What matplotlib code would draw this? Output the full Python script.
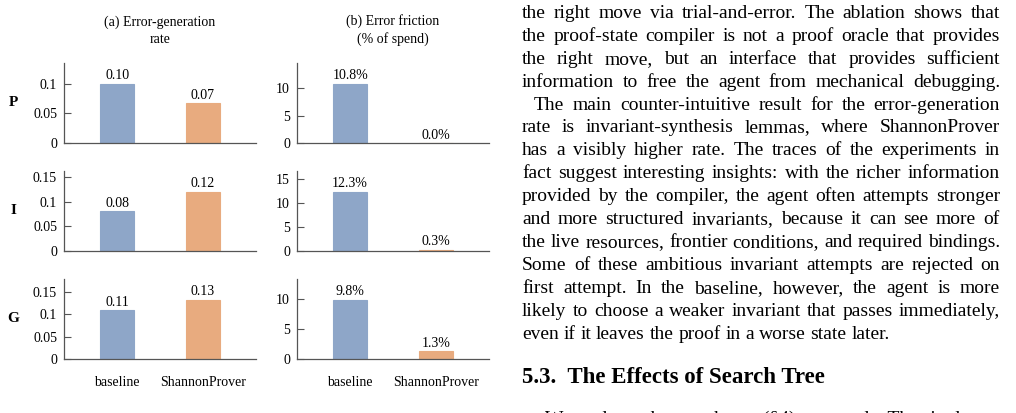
import numpy as np
import matplotlib.pyplot as plt
from matplotlib.ticker import MultipleLocator, FuncFormatter

plt.rcParams['font.family'] = 'Liberation Serif'

W, H = 1016, 413

# data
rows = ['P', 'I', 'G']
methods = ['baseline', 'ShannonProver']
rate_baseline = [0.10, 0.081, 0.11]
rate_shannon = [0.067, 0.12, 0.133]
fric_baseline = [10.8, 12.3, 9.8]
fric_shannon = [0.0, 0.3, 1.3]
titles = ['(a) Error-generation\nrate', '(b) Error friction\n(% of spend)']

body = [
    "the right move via trial-and-error. The ablation shows that",
    "the proof-state compiler is not a proof oracle that provides",
    "the right move, but an interface that provides sufficient",
    "information to free the agent from mechanical debugging.",
    "The main counter-intuitive result for the error-generation",
    "rate is invariant-synthesis lemmas, where ShannonProver",
    "has a visibly higher rate. The traces of the experiments in",
    "fact suggest interesting insights: with the richer information",
    "provided by the compiler, the agent often attempts stronger",
    "and more structured invariants, because it can see more of",
    "the live resources, frontier conditions, and required bindings.",
    "Some of these ambitious invariant attempts are rejected on",
    "first attempt. In the baseline, however, the agent is more",
    "likely to choose a weaker invariant that passes immediately,",
    "even if it leaves the proof in a worse state later.",
]
heading = "5.3.  The Effects of Search Tree"
last_line = "We evaluate the search tree (\u00a74) separately. The single"

blue = '#8ea6c8'
orange = '#e8ab7f'
gray = '#555555'

fig = plt.figure(figsize=(W / 100, H / 100), dpi=100)


def px_axes(x, y, w, h):
    return fig.add_axes([x / W, 1 - (y + h) / H, w / W, h / H])


tops = [63, 171, 279]
lefts = [64, 297]

for r in range(3):
    for c in range(2):
        ax = px_axes(lefts[c], tops[r], 192, 80)
        if c == 0:
            vals = [rate_baseline[r], rate_shannon[r]]
            labs = [f'{v:.2f}' for v in vals]
            step = 0.05
        else:
            vals = [fric_baseline[r], fric_shannon[r]]
            labs = [f'{v:.1f}%' for v in vals]
            step = 5
        bars = ax.bar([0, 1], vals, width=0.4, color=[blue, orange],
                      edgecolor=[blue, orange], linewidth=0.8)
        ax.bar_label(bars, labels=labs, padding=1, fontsize=10)
        ax.set_xlim(-0.62, 1.62)
        ax.set_ylim(0, max(vals) * 1.35)
        ax.yaxis.set_major_locator(MultipleLocator(step))
        ax.yaxis.set_major_formatter(FuncFormatter(lambda v, p: f'{v:g}'))
        for s in ['top', 'right']:
            ax.spines[s].set_visible(False)
        for s in ['left', 'bottom']:
            ax.spines[s].set_color(gray)
            ax.spines[s].set_linewidth(0.9)
        ax.tick_params(axis='y', direction='in', length=5, color=gray,
                       labelsize=10, pad=5)
        ax.set_xticks([0, 1])
        if r == 2:
            ax.set_xticklabels(methods)
        else:
            ax.set_xticklabels([])
        ax.tick_params(axis='x', length=0, labelsize=10, pad=12)
        if r == 0:
            ax.set_title(titles[c], fontsize=10, pad=14.5, linespacing=1.35)
    fig.text(13 / W, 1 - (tops[r] + 40) / H, rows[r], fontsize=11,
             fontweight='bold', ha='center', va='center')

# paper text on the right
renderer = fig.canvas.get_renderer()
x0, x1 = 522, 1000
fs = 14.0


def put_line(line, y, justify=True, indent=0):
    words = line.split()
    texts = [fig.text(0, 1 - y / H, w, fontsize=fs, va='baseline') for w in words]
    widths = [t.get_window_extent(renderer).width for t in texts]
    start = x0 + indent
    gap = fs * 100 / 72 * 0.25
    if justify and len(words) > 1:
        gap = (x1 - start - sum(widths)) / (len(words) - 1)
    x = start
    for t, w in zip(texts, widths):
        t.set_x(x / W)
        x += w + gap


for i, line in enumerate(body):
    y = 18 + 22.9 * i
    put_line(line, y, justify=(i != len(body) - 1), indent=12 if i == 4 else 0)

fig.text(x0 / W, 1 - 383 / H, heading, fontsize=16.5, fontweight='bold',
         va='baseline')
fig.text(545 / W, 1 - 424 / H, last_line, fontsize=fs, va='baseline')

fig.savefig('out.png', dpi=100)
